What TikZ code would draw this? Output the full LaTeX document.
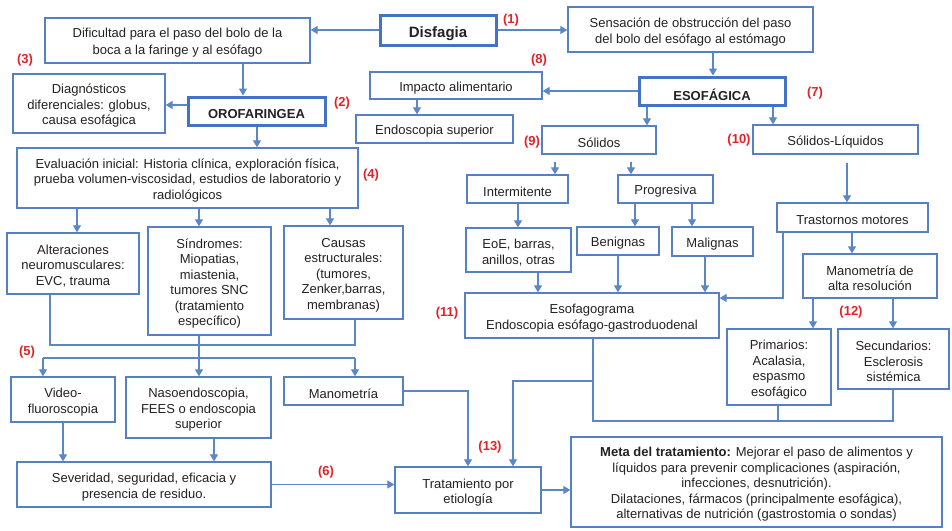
\documentclass[tikz,border=0pt]{standalone}
\usepackage{fontspec}
\setmainfont{Liberation Sans}
\usetikzlibrary{arrows.meta}
\definecolor{bd}{HTML}{5580C4}
\definecolor{thk}{HTML}{4472C4}
\definecolor{lnc}{HTML}{5B86C8}
\definecolor{rd}{HTML}{E32228}
\definecolor{tx}{HTML}{222222}
\tikzset{
  box/.style={draw=bd, line width=1.3pt, fill=white, inner sep=0pt},
  heavy/.style={line width=3pt, draw=thk},
  txt/.style={align=center, inner sep=0pt, text=tx, font=\fontsize{13}{15.5}\selectfont, yshift=-2.5pt},
  bold/.style={font=\fontsize{13}{15.5}\selectfont\bfseries},
  lbl/.style={text=rd, font=\fontsize{13}{15.5}\selectfont\bfseries, inner sep=0pt},
  arr/.style={draw=lnc, line width=1.2pt, -{Triangle[length=7pt,width=8pt]}},
  lin/.style={draw=lnc, line width=1.2pt}
}
% #1 box options, #2 text options, #3 name, #4-#7 corners, #8 text
\newcommand{\bx}[8]{\node[box,#1,minimum width={#6-#4},minimum height={#7-#5},label={[txt,#2]center:{#8}}] (#3) at ({(#4+#6)/2},{(#5+#7)/2}) {};}
\begin{document}
\begin{tikzpicture}[x=1pt,y=-1pt]
\fill[white] (0,0) rectangle (952,530);
\useasboundingbox (0,0) rectangle (952,530);
% boxes
\bx{heavy}{font=\fontsize{15}{17}\selectfont\bfseries,yshift=-1pt}{dis}{380}{15}{496}{45}{Disfagia}
\bx{}{font=\fontsize{13}{17}\selectfont}{dif}{45}{18}{310}{63}{Dificultad para el paso del bolo de la\\boca a la faringe y al esófago}
\bx{}{}{sen}{568}{7}{813}{52}{Sensación de obstrucción del paso\\del bolo del esófago al estómago}
\bx{}{}{dia}{13}{74}{165}{133}{Diagnósticos\\diferenciales: globus,\\causa esofágica}
\bx{heavy}{bold,yshift=-1pt}{oro}{188}{97}{325}{125}{OROFARINGEA}
\bx{}{}{eva}{17}{148}{358}{208}{Evaluación inicial: Historia clínica, exploración física,\\prueba volumen-viscosidad, estudios de laboratorio y\\radiológicos}
\bx{}{}{alt}{7}{233}{139}{294}{Alteraciones\\neuromusculares:\\EVC, trauma}
\bx{}{}{sin}{148}{227}{271}{335}{Síndromes:\\Miopatias,\\miastenia,\\tumores SNC\\(tratamiento\\específico)}
\bx{}{}{cau}{284}{226}{403}{319}{Causas\\estructurales:\\(tumores,\\Zenker,barras,\\membranas)}
\bx{}{}{vid}{11}{377}{115}{422}{Video-\\fluoroscopia}
\bx{}{}{nas}{126}{377}{271}{438}{Nasoendoscopia,\\FEES o endoscopia\\superior}
\bx{}{}{man}{284}{377}{403}{405}{Manometría}
\bx{}{}{sev}{17}{462}{271}{507}{Severidad, seguridad, eficacia y\\presencia de residuo.}
\bx{}{}{tra}{395}{467}{541}{513}{Tratamiento por\\etiología}
\bx{}{}{met}{571}{437}{942}{527}{\textbf{Meta del tratamiento:} Mejorar el paso de alimentos y\\líquidos para prevenir complicaciones (aspiración,\\infecciones, desnutrición).\\Dilataciones, fármacos (principalmente esofágica),\\alternativas de nutrición (gastrostomia o sondas)}
\bx{}{}{imp}{370}{72}{542}{99}{Impacto alimentario}
\bx{}{}{end}{356}{115}{513}{143}{Endoscopia superior}
\bx{heavy}{bold,yshift=-1pt}{eso}{639}{77}{785}{105}{ESOFÁGICA}
\bx{}{}{sol}{542}{126}{656}{154}{Sólidos}
\bx{}{}{sli}{753}{125}{918}{154}{Sólidos-Líquidos}
\bx{}{}{int}{467}{175}{568}{203}{Intermitente}
\bx{}{}{pro}{618}{175}{713}{203}{Progresiva}
\bx{}{}{eoe}{466}{228}{571}{272}{EoE, barras,\\anillos, otras}
\bx{}{}{ben}{577}{227}{659}{255}{Benignas}
\bx{}{}{mal}{672}{227}{753}{256}{Malignas}
\bx{}{}{esg}{465}{293}{719}{338}{Esofagograma\\Endoscopia esófago-gastroduodenal}
\bx{}{}{trm}{777}{203}{928}{232}{Trastornos motores}
\bx{}{}{mar}{803}{254}{937}{298}{Manometría de\\alta resolución}
\bx{}{}{pri}{727}{329}{831}{405}{Primarios:\\Acalasia,\\espasmo\\esofágico}
\bx{}{}{sec}{838}{329}{949}{389}{Secundarios:\\Esclerosis\\sistémica}
% labels
\node[lbl] (l1) at (511,20) {(1)};
\node[lbl] (l2) at (342,103) {(2)};
\node[lbl] (l3) at (25,60) {(3)};
\node[lbl] (l4) at (371,175) {(4)};
\node[lbl] (l5) at (27,352) {(5)};
\node[lbl] (l6) at (326,472) {(6)};
\node[lbl] (l7) at (815,93) {(7)};
\node[lbl] (l8) at (539,60) {(8)};
\node[lbl] (l9) at (532,142) {(9)};
\node[lbl] (l10) at (739,140) {(10)};
\node[lbl] (l11) at (447,313) {(11)};
\node[lbl] (l12) at (851,312) {(12)};
\node[lbl] (l13) at (490,447) {(13)};
% connectors
\draw[arr] (dis.west) -- (dis.west -| dif.east);
\draw[arr] (dis.east) -- (dis.east -| sen.west);
\draw[arr] (dif.south -| 243,0) -- (oro.north -| 243,0);
\draw[arr] (oro.west |- 0,105) -- (dia.east |- 0,105);
\draw[arr] (oro.south -| 257,0) -- (eva.north -| 257,0);
\draw[arr] (eva.south -| 77,0) -- (alt.north -| 77,0);
\draw[arr] (eva.south -| 199,0) -- (sin.north -| 199,0);
\draw[arr] (eva.south -| 330,0) -- (cau.north -| 330,0);
\draw[lin] (alt.south -| 50,0) -- (50,345) -- (355,345) -- (cau.south -| 355,0);
\draw[arr] (sin.south -| 199,0) -- (nas.north -| 199,0);
\coordinate (c5l) at (43,358);
\coordinate (c5r) at (355,358);
\draw[lin] (c5l) -- (c5r);
\draw[arr] (c5l) -- (vid.north -| c5l);
\draw[arr] (c5r) -- (man.north -| c5r);
\draw[arr] (vid.south -| 63,0) -- (sev.north -| 63,0);
\draw[arr] (nas.south -| 214,0) -- (sev.north -| 214,0);
\draw[arr] (sev.east) -- (sev.east -| tra.west);
\draw[arr] (man.east) -| (tra.north -| 468,0);
\draw[arr] (tra.east) -- (tra.east -| met.west);
\draw[arr] (eso.west) -- (eso.west -| imp.east);
\draw[arr] (imp.south -| 417,0) -- (end.north -| 417,0);
\draw[arr] (sen.south -| 713,0) -- (eso.north -| 713,0);
\draw[arr] (eso.south -| 647,0) -- (sol.north -| 647,0);
\draw[arr] (eso.south -| 773,0) -- (sli.north -| 773,0);
\draw[arr,shorten <=7pt] (sol.south -| 555,0) -- (int.north -| 555,0);
\draw[arr,shorten <=7pt] (sol.south -| 631,0) -- (pro.north -| 631,0);
\draw[arr,shorten <=8pt] (sli.south -| 847,0) -- (trm.north -| 847,0);
\draw[arr] (int.south -| 518,0) -- (eoe.north -| 518,0);
\draw[arr] (pro.south -| 635,0) -- (ben.north -| 635,0);
\draw[arr] (pro.south -| 692,0) -- (mal.north -| 692,0);
\draw[arr] (eoe.south -| 538,0) -- (esg.north -| 538,0);
\draw[arr] (ben.south -| 618,0) -- (esg.north -| 618,0);
\draw[arr] (mal.south -| 705,0) -- (esg.north -| 705,0);
\draw[arr] (trm.south -| 783,0) |- (esg.east |- 0,298);
\draw[arr] (trm.south -| 852,0) -- (mar.north -| 852,0);
\draw[arr] (mar.south -| 813,0) -- (pri.north -| 813,0);
\draw[arr] (mar.south -| 893,0) -- (sec.north -| 893,0);
\coordinate (j1) at (593,421);
\draw[lin] (esg.south -| 593,0) -- (j1) -| (sec.south -| 893,0);
\draw[lin] (pri.south -| 778,0) -- (778,421);
\coordinate (j2) at (593,381);
\draw[arr] (j2) -| (tra.north -| 513,0);
\end{tikzpicture}
\end{document}
